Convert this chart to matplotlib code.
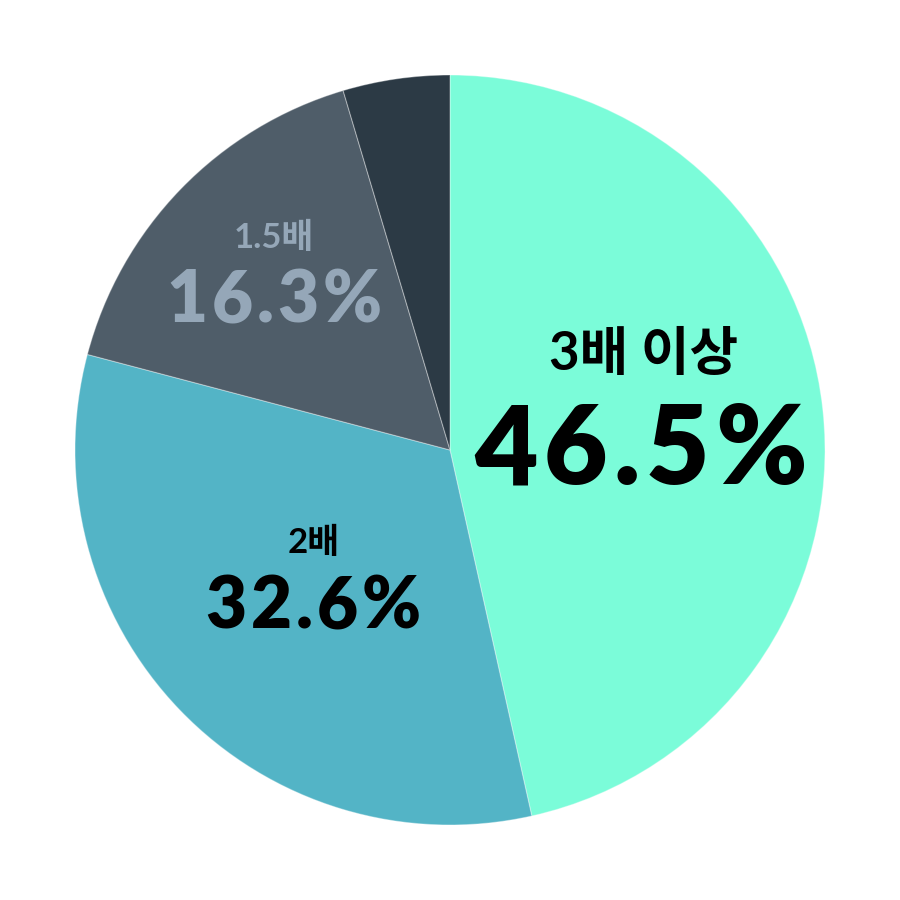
import matplotlib.pyplot as plt
from matplotlib.transforms import offset_copy

plt.rcParams['font.family'] = ['Lato', 'Noto Sans CJK KR', 'DejaVu Sans']

# data
labels = ['3배 이상', '2배', '1.5배', '']
values = [46.5, 32.6, 16.3, 4.6]
colors = ['#7bfcd9', '#53b4c6', '#4f5d69', '#2c3a45']
text_colors = ['#000000', '#000000', '#95a7b8', None]

DPI = 100
fig = plt.figure(figsize=(9, 9), dpi=DPI)
ax = fig.add_axes([0, 0, 1, 1])

wedges, _ = ax.pie(values, colors=colors, startangle=90, counterclock=False,
                   radius=1.0, center=(0, 0),
                   wedgeprops=dict(linewidth=0.8, edgecolor=(1, 1, 1, 0.35)))

ax.set_xlim(-1.2, 1.2)
ax.set_ylim(-1.2, 1.2)
ax.set_aspect('equal')
ax.axis('off')

renderer = fig.canvas.get_renderer()
WEIGHT = 'heavy'


def text_width(s, size):
    t = ax.text(0, 0, s, fontsize=size, fontweight=WEIGHT)
    w = t.get_window_extent(renderer).width
    t.remove()
    return w


#draw a string centred at (x,y) baseline with extra letter spacing
def tracked_text(x, y, s, size, color, track):
    offs = [text_width(s[:i + 1], size) - text_width(s[i], size) for i in range(len(s))]
    gap = track * size * DPI / 72
    total = text_width(s, size) + gap * (len(s) - 1)
    for i, ch in enumerate(s):
        dx = offs[i] + gap * i - total / 2
        tr = offset_copy(ax.transData, fig=fig, x=dx * 72 / DPI, y=0, units='points')
        ax.text(x, y, ch, transform=tr, ha='left', va='baseline',
                fontsize=size, fontweight=WEIGHT, color=color)


# label positions (axes data units, baselines)
label_xy = [(0.517, 0.213), (-0.363, -0.275), (-0.469, 0.539)]
value_xy = [(0.509, -0.091), (-0.365, -0.475), (-0.469, 0.341)]
label_size = [38, 25, 25]
value_size = [79, 51, 51]

for k in range(3):
    ax.text(label_xy[k][0], label_xy[k][1], labels[k], ha='center', va='baseline',
            fontsize=label_size[k], fontweight='bold', color=text_colors[k])
    tracked_text(value_xy[k][0], value_xy[k][1], '%.1f%%' % values[k],
                 value_size[k], text_colors[k], 0.055)

fig.savefig('out.png', dpi=DPI, facecolor='white')
